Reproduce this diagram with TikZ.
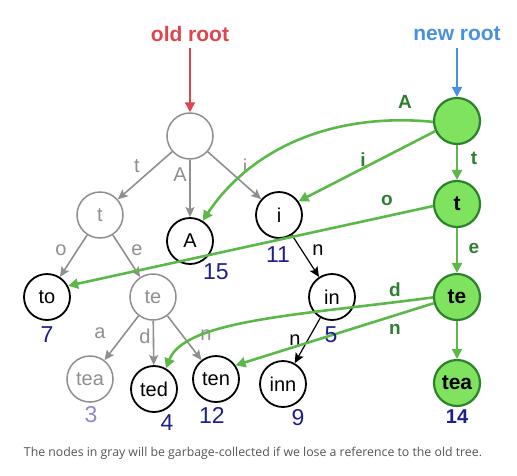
\documentclass[tikz,border=0pt]{standalone}
\usepackage{fontspec}
\setmainfont{Liberation Sans}
\newfontfamily\capfont{Open Sans}
\usetikzlibrary{arrows.meta}
\definecolor{gr}{HTML}{8F8F8F}
\definecolor{gfill}{HTML}{80E35F}
\definecolor{gborder}{HTML}{2B822B}
\definecolor{gedgec}{HTML}{5CB848}
\definecolor{glab}{HTML}{2E7D32}
\definecolor{redc}{HTML}{E0444E}
\definecolor{bluec}{HTML}{4A90E2}
\definecolor{navy}{HTML}{1E1E8C}
\definecolor{lpurp}{HTML}{8E8ACB}
\definecolor{capc}{HTML}{555555}
\begin{document}
\begin{tikzpicture}[x=1pt,y=-1pt,
  nfont/.style={font=\fontsize{20}{20}\selectfont},
  graynode/.style={circle,draw=gr,line width=1.5pt,minimum size=46pt,inner sep=0pt,text=gr,nfont},
  blacknode/.style={circle,draw=black,line width=1.8pt,minimum size=46pt,inner sep=0pt,text=black,nfont},
  greennode/.style={circle,draw=gborder,fill=gfill,line width=2.2pt,minimum size=46pt,inner sep=0pt,text=black,font=\fontsize{21}{21}\selectfont\bfseries},
  graytip/.style={-{Stealth[length=10pt,width=9pt,inset=2pt]}},
  greentip/.style={-{Triangle[length=10pt,width=10pt]}},
  grayedge/.style={graytip,draw=gr,line width=1.6pt},
  blackedge/.style={graytip,draw=black,line width=1.2pt},
  greenedge/.style={greentip,draw=gedgec,line width=2.6pt},
  glabel/.style={text=gr,font=\fontsize{20}{20}\selectfont},
  blabel/.style={text=black,font=\fontsize{20}{20}\selectfont},
  grlabel/.style={text=glab,font=\fontsize{19}{19}\selectfont\bfseries},
  num/.style={text=navy,font=\fontsize{23}{23}\selectfont},
  rootlab/.style={font=\fontsize{21}{21}\selectfont\bfseries}
]
\useasboundingbox (0,0) rectangle (517,475);

% titles
\node[rootlab,text=redc] (oldlab) at (190,34) {old root};
\node[rootlab,text=bluec] (newlab) at (457,34) {new root};

% old tree nodes
\node[graynode] (r) at (190,136) {};
\node[graynode] (t) at (100,215) {t};
\node[blacknode] (A) at (190,241) {A};
\node[blacknode] (i) at (279,215) {i};
\node[blacknode] (to) at (47,297) {to};
\node[graynode] (te) at (153,297) {te};
\node[graynode] (tea) at (90,379) {tea};
\node[blacknode] (ted) at (154,389) {ted};
\node[blacknode] (ten) at (216,379) {ten};
\node[blacknode] (in) at (332,297) {in};
\node[blacknode] (inn) at (283,384) {inn};

% new tree nodes
\node[greennode] (nr) at (457,121) {};
\node[greennode] (tg) at (457,204) {t};
\node[greennode] (teg) at (457,297) {te};
\node[greennode] (teag) at (457,383) {tea};

% root arrows
\coordinate (oa) at (190,48);
\coordinate (na) at (457,48);
\draw[greentip,draw=redc,line width=2.2pt] (oa) -- (r);
\draw[greentip,draw=bluec,line width=2.2pt] (na) -- (nr);

% gray edges
\draw[grayedge] (r) -- (t);
\draw[grayedge] (r) -- (A);
\draw[grayedge] (r) -- (i);
\draw[grayedge] (t) -- (to);
\draw[grayedge] (t) -- (te);
\draw[grayedge] (te) -- (tea);
\draw[grayedge] (te) -- (ted);
\draw[grayedge] (te) -- (ten);

% black edges
\draw[blackedge] (i) -- (in);
\draw[blackedge] (in) -- (inn);

% gray labels
\node[glabel] (l1) at (137,166) {t};
\node[glabel] (l2) at (180,175) {A};
\node[glabel] (l3) at (245,166) {i};
\node[glabel] (l4) at (61,250) {o};
\node[glabel] (l5) at (137,250) {e};
\node[glabel] (l6) at (100,333) {a};
\node[glabel] (l7) at (145,336) {d};
\node[glabel] (l8) at (206,335) {n};
\node[blabel] (l9) at (318,250) {n};
\node[blabel] (l10) at (295,340) {n};

% green edges
\draw[greenedge] (nr.182) .. controls (330,112) and (250,150) .. (A.58);
\draw[greenedge] (nr.205) -- (i.35);
\draw[greenedge] (nr) -- (tg);
\draw[greenedge] (tg.185) -- (to.28);
\draw[greenedge] (tg) -- (teg);
\draw[greenedge] (teg.181) .. controls (300,315) and (185,320) .. (ted.60);
\draw[greenedge] (teg.195) -- (ten.35);
\draw[greenedge] (teg) -- (teag);

% green labels
\node[grlabel] (g1) at (405,102) {A};
\node[grlabel] (g2) at (363,160) {i};
\node[grlabel] (g3) at (474,158) {t};
\node[grlabel] (g4) at (387,200) {o};
\node[grlabel] (g5) at (474,248) {e};
\node[grlabel] (g6) at (395,290) {d};
\node[grlabel] (g7) at (395,329) {n};

% numbers
\node[num] (n15) at (216,272) {15};
\node[num] (n11) at (278,255) {11};
\node[num] (n7) at (47,335) {7};
\node[num,text=lpurp] (n3) at (91,415) {3};
\node[num] (n4) at (167,423) {4};
\node[num] (n12) at (212,415) {12};
\node[num] (n5) at (331,335) {5};
\node[num] (n9) at (298,418) {9};
\node[num,font=\fontsize{20}{20}\selectfont\bfseries] (n14) at (457,417) {14};

% caption
\node[text=capc,font=\capfont\fontsize{12.3}{14}\selectfont] (cap) at (253,453) {The nodes in gray will be garbage-collected if we lose a reference to the old tree.};
\end{tikzpicture}
\end{document}
